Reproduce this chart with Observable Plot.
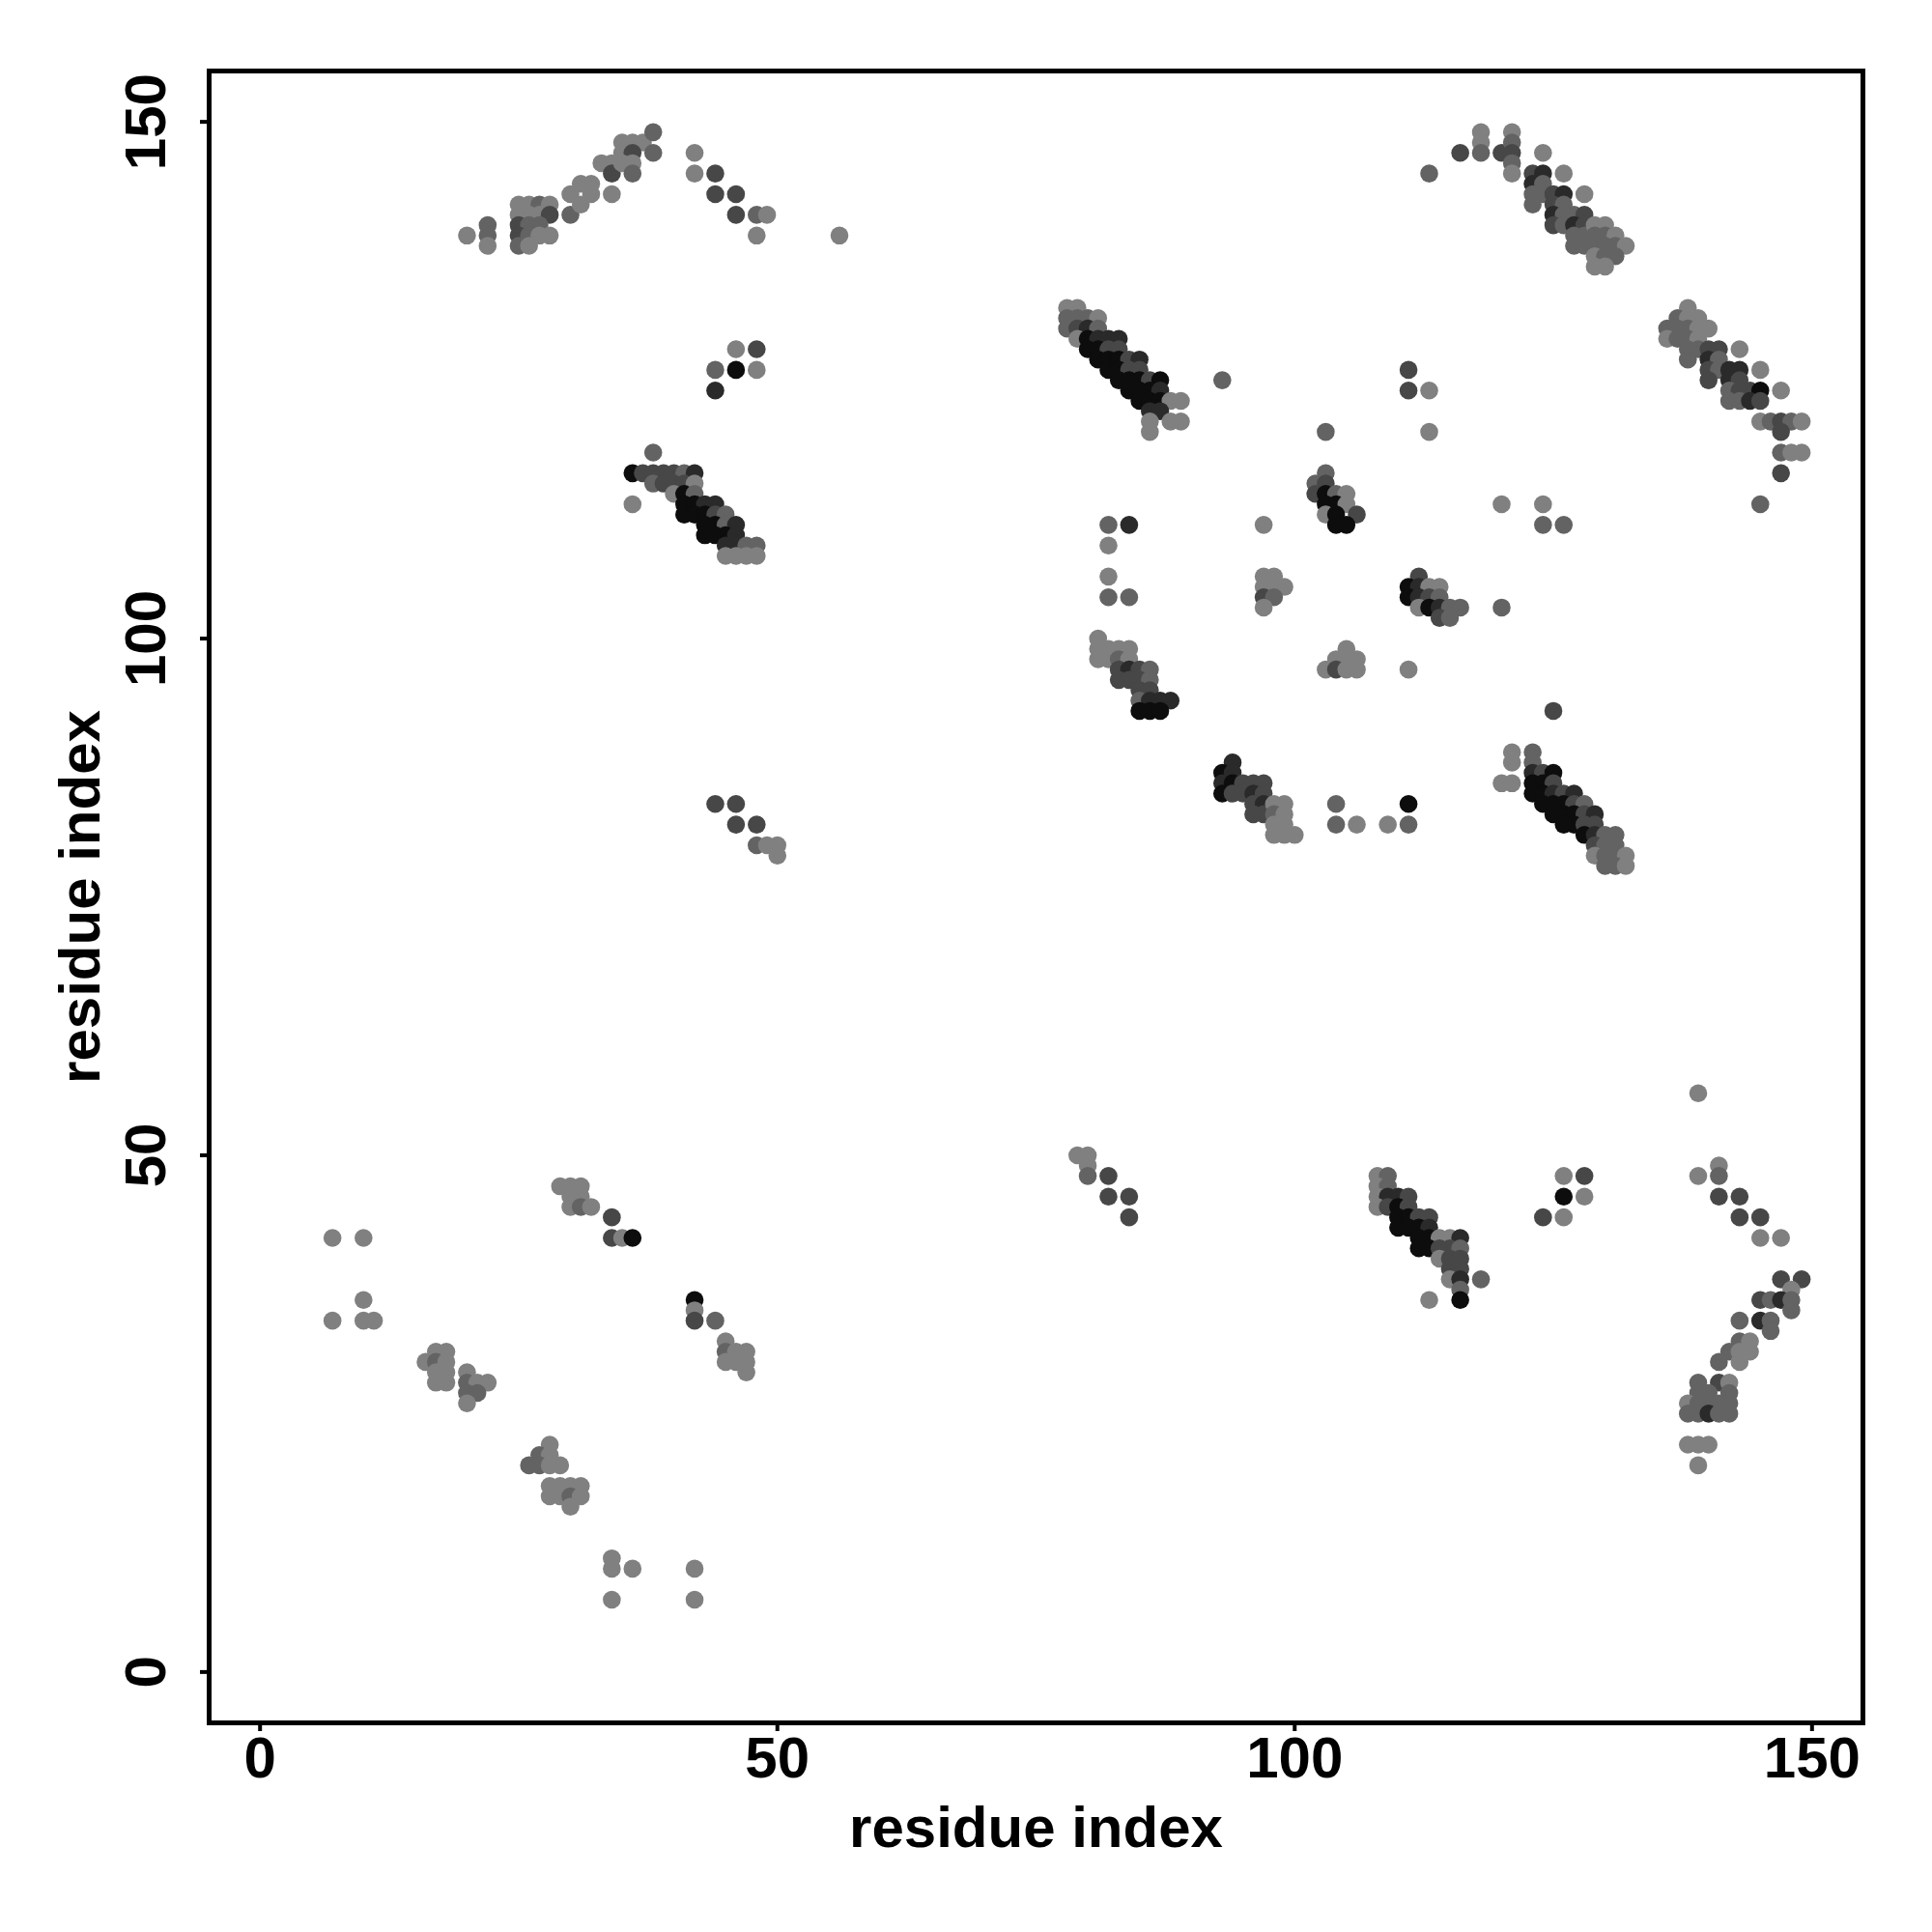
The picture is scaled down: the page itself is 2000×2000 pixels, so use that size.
<!DOCTYPE html>
<html><head><meta charset="utf-8">
<script src="https://cdn.jsdelivr.net/npm/d3@7"></script>
<script src="https://cdn.jsdelivr.net/npm/@observablehq/plot@0.6"></script>
<style>body{margin:0;background:#fff}</style>
</head><body><div id="chart"></div>
<script>
// tick labels and axis titles
const xTicks = [0, 50, 100, 150];
const yTicks = [0, 50, 100, 150];
const xTitle = "residue index";
const yTitle = "residue index";

// contacts: [residue i, residue j, strength 1 (weak, light) .. 5 (strong, black)]
const arcTopLeft = [
 [20,139,1],[22,140,2],[22,139,2],[22,138,1],
 [25,142,1],[26,142,1],[27,142,2],[28,142,1],[25,141,1],[26,141,1],[27,141,1],[28,141,3],
 [25,140,3],[26,140,2],[27,140,2],[25,139,3],[26,139,2],[27,139,1],[28,139,1],[25,138,2],[26,138,1],
 [30,141,2],[30,143,1],[31,144,1],[32,144,1],[32,143,1],[31,142,1],[34,143,1],
 [33,146,1],[34,146,1],[34,145,3],[35,148,1],[36,148,1],[37,148,1],[35,147,1],[36,147,3],[35,146,1],[36,146,1],[36,145,2],
 [38,149,2],[38,147,2],[42,147,1],[42,145,1],[44,145,3],[44,143,3],[46,143,3],[46,141,3],[48,141,2],[49,141,1],[48,139,1],[56,139,1]
];
const blockLeftMid = [
 [46,128,1],[48,128,3],[44,126,2],[46,126,5],[48,126,1],[44,124,4],[38,118,2],
 [36,116,5],[37,116,3],[38,116,3],[39,116,3],[40,116,3],[41,116,2],[42,116,4],
 [38,115,2],[39,115,3],[40,115,3],[41,115,3],[42,115,1],
 [40,114,1],[41,114,5],[42,114,2],
 [36,113,1],[41,113,5],[42,113,5],[43,113,4],[44,113,4],
 [41,112,5],[42,112,5],[43,112,5],[44,112,3],[45,112,2],
 [43,111,5],[44,111,5],[45,111,2],[46,111,4],
 [43,110,5],[44,110,5],[45,110,5],[46,110,4],
 [45,109,4],[46,109,4],[47,109,2],[48,109,2],
 [45,108,1],[46,108,1],[47,108,1],[48,108,1],
 [44,84,3],[46,84,3],[46,82,3],[48,82,3],[48,80,2],[49,80,1],[50,80,1],[50,79,1]
];
const diagCenterTop = [
 [78,132,1],[79,132,1],[78,131,2],[79,131,2],[80,131,2],[81,131,1],
 [78,130,2],[79,130,3],[80,130,4],[81,130,2],
 [79,129,1],[80,129,5],[81,129,4],[82,129,4],[83,129,4],
 [80,128,5],[81,128,5],[82,128,3],[83,128,3],
 [81,127,5],[82,127,5],[83,127,5],[84,127,3],[85,127,4],
 [82,126,5],[83,126,5],[84,126,3],[85,126,3],
 [83,125,5],[84,125,5],[85,125,5],[86,125,3],[87,125,5],[93,125,2],
 [84,124,5],[85,124,5],[86,124,5],[87,124,4],
 [85,123,5],[86,123,5],[87,123,5],[88,123,1],[89,123,1],
 [86,122,4],[87,122,4],[86,121,1],[88,121,1],[89,121,1],[86,120,1]
];
const blockCenter = [
 [103,120,2],[103,116,2],[102,115,2],[103,115,3],[102,114,3],[103,114,5],[104,114,2],[105,114,1],
 [103,113,5],[104,113,5],[105,113,1],[103,112,1],[104,112,5],[106,112,3],[104,111,5],[105,111,5],
 [82,111,2],[84,111,4],[82,109,1],[82,106,1],[82,104,2],[84,104,2],[97,111,1],
 [97,106,1],[98,106,1],[97,105,1],[98,105,1],[99,105,1],[97,104,3],[98,104,2],[97,103,1],
 [105,99,1],[104,98,1],[105,98,1],[106,98,1],[103,97,1],[104,97,3],[105,97,1],[106,97,1],
 [81,100,1],[81,99,1],[81,98,1],[82,99,1],[83,99,1],[84,99,1],[82,98,1],[83,98,2],[84,98,1],
 [83,97,3],[84,97,4],[83,96,3],[84,96,3],[85,97,3],[86,97,2],[85,96,3],[86,96,2],[85,95,3],[86,95,3],
 [85,94,2],[86,94,4],[87,94,4],[88,94,4],[85,93,5],[86,93,5],[87,93,5],
 [94,88,4],[93,87,5],[93,86,4],[93,85,5],[94,87,4],[94,86,5],[94,85,3],
 [95,86,3],[96,86,3],[97,86,3],[95,85,3],[96,85,4],[97,85,3],[96,84,3],[97,84,4],[96,83,3],[97,83,3],
 [98,84,1],[99,84,1],[98,83,2],[99,83,1],[98,82,1],[99,82,1],[98,81,1],[99,81,1],[100,81,1],
 [104,84,2],[104,82,2],[106,82,1]
];
const arcTopRight = [
 [113,145,2],[116,147,3],[118,149,1],[118,148,1],[118,147,2],[120,147,3],
 [121,149,1],[121,148,2],[121,147,3],[121,146,2],[121,145,1],[124,147,1],
 [123,145,3],[124,145,4],[123,144,4],[124,144,2],[123,143,2],[124,143,2],[123,142,2],
 [125,143,3],[126,143,4],[126,145,1],[128,143,1],
 [125,142,3],[126,142,2],[125,141,4],[126,141,2],[125,140,3],[126,140,2],
 [127,141,2],[128,141,3],[127,140,4],[128,140,3],[127,139,2],[128,139,2],[127,138,2],[128,138,2],
 [129,140,1],[130,140,1],[129,139,2],[130,139,2],[131,139,1],
 [129,138,2],[130,138,2],[131,138,2],[132,138,1],[129,137,1],[130,137,2],[131,137,2],[129,136,1],[130,136,1]
];
const blockRightMid = [
 [111,126,3],[111,124,3],[113,124,1],[113,120,1],[120,113,1],[124,113,1],[124,111,2],[126,111,2],
 [112,106,3],[111,105,5],[112,105,4],[113,105,1],[114,105,1],[111,104,5],[112,104,4],[113,104,3],[114,104,2],
 [112,103,1],[113,103,5],[114,103,4],[115,103,2],[116,103,2],[114,102,3],[115,102,2],[120,103,2],
 [111,97,1],[125,93,3],
 [121,89,1],[123,89,2],[121,88,1],[123,88,2],
 [123,87,4],[124,87,3],[125,87,5],
 [120,86,1],[121,86,1],[123,86,5],[124,86,5],[125,86,3],
 [123,85,5],[124,85,5],[125,85,4],[126,85,3],[127,85,4],
 [124,84,5],[125,84,5],[126,84,5],[127,84,3],[128,84,2],
 [125,83,5],[126,83,5],[127,83,5],[128,83,3],[129,83,4],
 [126,82,5],[127,82,5],[128,82,3],[129,82,3],
 [128,81,5],[129,81,4],[130,81,2],[131,81,2],
 [129,80,3],[130,80,2],[131,80,2],
 [129,79,1],[130,79,2],[131,79,2],[132,79,1],
 [130,78,2],[131,78,2],[132,78,1],
 [111,84,5],[109,82,1],[111,82,2]
];
const diagRightTop = [
 [138,132,1],[137,131,2],[138,131,1],[139,131,1],
 [136,130,2],[137,130,2],[138,130,2],[139,130,1],[140,130,1],
 [136,129,1],[137,129,2],[138,129,2],[139,129,1],
 [138,128,2],[139,128,2],[140,128,3],[141,128,3],[143,128,1],
 [138,127,2],[140,127,4],[141,127,2],
 [140,126,3],[141,126,2],[142,126,4],[143,126,4],[145,126,1],
 [140,125,3],[142,125,4],[143,125,3],
 [142,124,2],[143,124,3],[144,124,3],[145,124,5],[147,124,1],
 [142,123,2],[143,123,2],[144,123,4],[145,123,3],
 [145,121,1],[146,121,2],[147,121,3],[148,121,2],[149,121,1],
 [147,120,3],[147,118,2],[148,118,1],[149,118,1],[147,116,3],[145,113,2]
];
const blockBottomLeft = [
 [7,42,1],[10,42,1],[10,36,1],[7,34,1],[10,34,1],[11,34,1],
 [16,30,1],[17,31,1],[18,31,1],[17,30,2],[18,30,1],[17,29,1],[18,29,1],[17,28,1],[18,28,1],
 [20,29,1],[20,28,2],[21,28,1],[22,28,1],[20,27,2],[21,27,2],[20,26,1],
 [29,47,1],[30,47,1],[31,47,1],[30,46,1],[31,46,1],[30,45,1],[31,45,2],[32,45,1],
 [34,44,3],[34,42,3],[35,42,1],[36,42,5],
 [42,36,5],[42,35,1],[42,34,3],[44,34,2],
 [45,32,1],[45,31,2],[46,31,1],[47,31,1],[45,30,1],[46,30,1],[47,30,1],[47,29,1],
 [28,22,1],[27,21,2],[28,21,1],[26,20,2],[27,20,2],[28,20,1],[29,20,1],
 [28,18,1],[29,18,1],[30,18,1],[31,18,1],[28,17,1],[29,17,1],[30,17,2],[31,17,1],[30,16,1],
 [34,11,1],[34,10,1],[36,10,1],[42,10,1],[34,7,1],[42,7,1]
];
const diagBottomMid = [
 [79,50,1],[80,50,1],[80,49,1],[80,48,2],[82,48,3],[82,46,3],[84,46,3],[84,44,3],
 [108,48,1],[109,48,2],[108,47,1],[109,47,2],
 [108,46,1],[109,46,4],[110,46,4],[111,46,3],
 [108,45,1],[109,45,3],[110,45,5],[111,45,3],
 [110,44,5],[111,44,5],[112,44,3],[113,44,3],
 [110,43,5],[111,43,5],[112,43,5],[113,43,4],
 [112,42,5],[113,42,5],[114,42,1],[115,42,1],[116,42,4],
 [112,41,5],[113,41,5],[114,41,3],[115,41,3],[116,41,2],
 [114,40,1],[115,40,3],[116,40,3],[115,39,3],[116,39,3],
 [115,38,1],[116,38,4],[118,38,2],[116,37,2],[113,36,1],[116,36,5],
 [124,44,3],[126,48,1],[126,46,5],[126,44,1],[128,48,3],[128,46,1]
];
const arcBottomRight = [
 [139,56,1],[139,48,1],[141,49,1],[141,48,2],[141,46,3],[143,46,3],[143,44,3],[145,44,3],[145,42,1],[147,42,1],
 [147,38,3],[149,38,3],[148,37,1],[145,36,3],[146,36,2],[147,36,4],[148,36,2],[148,35,2],
 [145,34,4],[146,34,2],[146,33,2],[143,34,2],
 [143,32,2],[144,32,1],[142,31,2],[143,31,1],[144,31,1],[141,30,2],[143,30,1],
 [139,28,2],[141,28,3],[142,28,1],[139,27,2],[140,27,2],[142,27,2],
 [138,26,1],[139,26,2],[140,26,2],[141,26,2],[142,26,2],
 [138,25,2],[139,25,2],[140,25,4],[141,25,2],[142,25,2],
 [138,22,1],[139,22,1],[140,22,1],[139,20,1]
];

const contacts = [arcTopLeft, blockLeftMid, diagCenterTop, blockCenter, arcTopRight,
  blockRightMid, diagRightTop, blockBottomLeft, diagBottomMid, arcBottomRight]
  .flat().map(([i, j, s]) => ({i, j, s}));

const font = "'Liberation Sans', Arial, Helvetica, sans-serif";
const chart = Plot.plot({
  width: 2000, height: 2000,
  marginLeft: 216, marginRight: 72, marginTop: 73, marginBottom: 217,
  x: {domain: [-4.92, 154.92], axis: null},
  y: {domain: [-4.92, 154.92], axis: null},
  color: {type: "linear", domain: [1, 5], range: ["#808080", "#0d0d0d"]},
  style: {fontFamily: font, fontSize: "60px", fontWeight: "bold", background: "white", color: "black"},
  marks: [
    Plot.dot(contacts, {x: "i", y: "j", r: 9.3, fill: "s"}),
    Plot.frame({stroke: "black", strokeWidth: 5}),
    Plot.axisX({ticks: xTicks, tickSize: 9, tickPadding: 5, strokeWidth: 4, label: null,
      fontSize: 60, fontWeight: "bold", tickFormat: d => String(d)}),
    Plot.axisY({ticks: yTicks, tickSize: 9, strokeWidth: 4, label: null, tickFormat: () => ""}),
    Plot.text(yTicks, {y: d => d, text: d => String(d), frameAnchor: "left", dx: -46, rotate: -90,
      textAnchor: "middle", lineAnchor: "bottom", fontSize: 60, fontWeight: "bold"}),
    Plot.text([xTitle], {text: d => d, frameAnchor: "bottom", dy: 128, lineAnchor: "bottom",
      textAnchor: "middle", fontSize: 60, fontWeight: "bold"}),
    Plot.text([yTitle], {text: d => d, frameAnchor: "left", dx: -114, rotate: -90, lineAnchor: "bottom",
      textAnchor: "middle", fontSize: 60, fontWeight: "bold"})
  ]
});
document.getElementById("chart").appendChild(chart);
</script>
</body></html>
